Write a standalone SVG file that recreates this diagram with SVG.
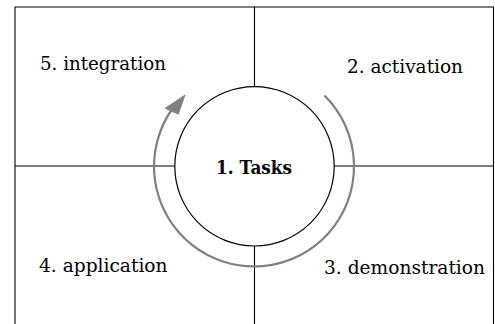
<svg xmlns="http://www.w3.org/2000/svg" width="495" height="324" viewBox="0 0 495 324">
<style>
.grid{stroke:#000;stroke-width:1.1;fill:none}
.lbl{font-family:"DejaVu Serif","Liberation Serif",serif;font-size:18px;fill:#000}
.bold{font-weight:bold;font-size:19px}
.cyc{stroke:#808080;stroke-width:2.2;fill:none}
</style>
<rect width="495" height="324" fill="#fff"/>
<g id="grid">
<path class="grid" d="M15,330 V7 H493.5 V330"/>
<line class="grid" x1="254.5" y1="7" x2="254.5" y2="330"/>
<line class="grid" x1="15" y1="166" x2="493.5" y2="166"/>
</g>
<g id="connectors">
<path class="cyc" d="M324.5,95.5 A100,100 0 1 1 172.5,108.5"/>
<polygon points="185,95 178.3,114.3 165,108.3" fill="#808080" stroke="#808080" stroke-width="0.8" stroke-linejoin="round"/>
</g>
<g id="tasks">
<circle cx="254.5" cy="166.3" r="79.7" fill="#fff" stroke="#000" stroke-width="1.2"/>
<text class="lbl bold" x="216" y="174" textLength="76" lengthAdjust="spacingAndGlyphs">1. Tasks</text>
</g>
<g id="activation"><text class="lbl" x="347" y="72.5" textLength="116" lengthAdjust="spacingAndGlyphs">2. activation</text></g>
<g id="demonstration"><text class="lbl" x="324" y="274" textLength="161" lengthAdjust="spacingAndGlyphs">3. demonstration</text></g>
<g id="application"><text class="lbl" x="39" y="272" textLength="128.5" lengthAdjust="spacingAndGlyphs">4. application</text></g>
<g id="integration"><text class="lbl" x="40" y="70" textLength="126" lengthAdjust="spacingAndGlyphs">5. integration</text></g>
</svg>
